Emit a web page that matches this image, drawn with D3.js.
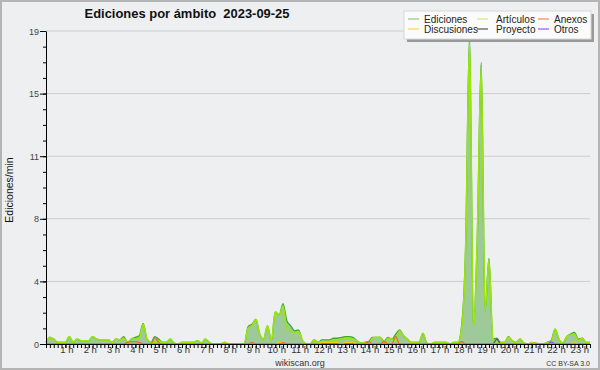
<!DOCTYPE html>
<html>
<head>
<meta charset="utf-8">
<script src="https://cdn.jsdelivr.net/npm/d3@7"></script>
<style>
  body { margin: 0; background: #fff; }
  svg { display: block; }
  text { font-family: "Liberation Sans", Arial, sans-serif; }
</style>
</head>
<body>
<svg id="chart" width="600" height="370"></svg>
<script>
// minutos del dia: primer punto 00:10, un punto cada 10 min hasta 23:30
var startMin = 10, stepMin = 10;

// ediciones/min por tramo de 10 minutos (una fila = una hora)
var ediciones = [
  0.1,0.4,0.3,0.1,0.1,0.1,
  0.45,0.1,0.3,0.2,0.2,0.2,
  0.45,0.3,0.25,0.25,0.25,0.1,
  0.3,0.25,0.45,0.1,0.3,0.4,
  0.5,1.25,0.3,0.1,0.45,0.3,
  0.1,0.1,0.3,0.05,0,0.1,
  0.1,0.1,0.1,0.2,0.05,0.3,
  0.1,0,0,0,0.1,0,
  0,0,0,0,1.05,1.2,
  1.5,0.6,0.3,1.1,0.2,1.95,
  1.75,2.45,1.4,1.1,0.8,0.85,
  0.2,0,0,0.25,0.1,0.25,
  0.25,0.25,0.35,0.35,0.4,0.45,
  0.45,0.4,0.2,0.05,0.1,0.15,
  0.4,0.4,0.4,0.15,0.4,0.3,
  0.6,0.85,0.5,0.3,0.1,0.1,
  0.1,0.65,0.05,0,0.1,0.1,
  0.1,0.1,0,0.1,0.1,1.2,
  6,18.7,1.0,6.5,17.1,2.0,
  5.2,0.3,0.35,0.1,0.1,0.45,
  0.2,0.1,0.3,0.05,0,0.1,
  0.05,0,0,0.1,0.2,0.9,
  0.3,0.05,0.45,0.6,0.7,0.3,
  0.35,0.1,0.1
];
var articulos = [
  0.1,0.4,0.3,0.1,0.1,0.1,
  0.45,0.1,0.3,0.2,0.2,0.2,
  0.45,0.3,0.25,0.25,0.25,0.1,
  0.3,0.25,0.35,0.1,0.3,0.3,
  0.35,1.2,0.3,0.1,0.05,0.2,
  0.1,0.1,0.3,0.05,0,0.1,
  0.1,0.1,0.1,0.2,0.05,0.3,
  0.1,0,0,0,0.1,0,
  0,0,0,0,0.95,1.1,
  1.5,0.6,0.3,1.1,0.2,1.95,
  1.7,2.3,0.95,0.8,0.65,0.75,
  0.2,0,0,0.25,0.1,0.15,
  0.15,0.15,0.25,0.25,0.3,0.35,
  0.35,0.3,0.2,0.05,0.1,0,
  0.35,0.4,0.4,0,0.35,0.3,
  0.15,0.8,0.5,0.3,0.1,0.1,
  0.1,0.65,0.05,0,0.1,0.1,
  0.1,0.1,0,0.1,0.1,1.0,
  5.8,18.3,1.0,6.4,16.8,2.0,
  5.1,0.3,0.05,0.1,0.1,0.4,
  0.2,0.1,0.3,0.05,0,0,
  0.05,0,0,0.1,0.1,0.9,
  0.3,0.05,0.45,0.55,0.6,0.2,
  0.35,0.1,0.1
];
var anexos = [
  0,0,0,0,0,0,  0,0,0,0,0,0,  0,0,0,0,0,0,
  0,0,0,0.1,0.15,0.15,
  0.1,0,0,0,0.38,0.1,
  0,0,0,0,0,0,  0,0,0,0,0,0,  0,0,0,0,0,0,
  0,0,0,0,0,0.1,
  0,0,0,0,0,0,
  0,0.08,0,0,0,0,
  0,0,0,0,0,0,  0,0,0,0,0,0,
  0,0,0,0,0,0.15,
  0,0,0,0.15,0,0,
  0.45,0,0,0,0,0,
  0,0,0,0,0,0,
  0,0,0,0,0,0.15,
  0,0,0,0,0,0,  0,0,0,0,0,0,  0,0,0,0,0,0,  0,0,0,0,0,0,  0,0,0,0,0,0,
  0,0,0
];
var discusiones = [
  0,0,0,0,0,0,  0,0,0,0,0,0,  0,0,0,0,0,0,  0,0,0,0,0,0,  0,0,0,0,0,0,
  0,0,0,0,0,0,  0,0,0,0,0,0,  0,0,0,0,0,0,  0,0,0,0,0,0,  0,0,0,0,0,0,
  0.08,0.08,0,0,0,0,
  0,0,0,0,0,0.1,
  0.1,0.1,0.1,0.1,0,0.1,
  0.1,0.1,0,0,0,0,
  0,0,0,0,0,0,  0,0,0,0,0,0,  0,0,0,0,0,0,  0,0,0,0,0,0,  0,0,0,0,0,0,  0,0,0,0,0,0,
  0,0,0,0,0,0.1,
  0,0,0,0,0,0,
  0,0,0,0,0.08,0,
  0,0,0
];
var proyecto = [
  0,0,0,0,0,0,  0,0,0,0,0,0,  0,0,0,0,0,0,  0,0,0,0,0,0,  0,0,0,0,0,0,
  0,0,0,0,0,0,  0,0,0,0,0,0,  0,0,0,0,0,0,  0,0,0,0,0,0,  0,0,0,0,0,0,
  0,0,0,0,0,0,  0,0,0,0,0,0,  0,0,0,0,0,0,  0,0,0,0,0,0,  0,0,0,0,0,0,
  0,0,0,0,0,0,  0,0,0,0,0,0,  0,0,0,0,0,0,  0,0,0,0,0,0,
  0,0,0.3,0,0,0,
  0,0,0,0,0,0,  0,0,0,0,0,0,  0,0,0,0,0,0,
  0,0,0
];
var otros = [
  0,0,0,0,0,0,  0,0,0,0,0,0,  0,0,0,0,0,0,  0,0,0,0,0,0,  0,0,0,0,0,0,
  0,0,0,0,0,0,  0,0,0,0,0,0,  0,0,0,0,0,0,  0,0,0,0,0,0,  0,0,0,0,0,0,
  0,0,0,0,0,0,  0,0,0,0,0,0,  0,0,0,0,0,0,  0,0,0,0,0,0,  0,0,0,0,0,0,
  0,0,0,0,0,0,  0,0,0,0,0,0,  0,0,0,0,0,0,  0,0,0,0,0,0,  0,0,0,0,0,0,
  0,0,0,0,0,0,
  0,0,0,0,0.12,0,
  0,0,0,0,0,0,
  0,0,0
];

var yTicks = [0, 3.8, 7.6, 11.4, 15.2, 19];
var yTickLabels = ["0", "4", "8", "11", "15", "19"];
var hours = [1,2,3,4,5,6,7,8,9,10,11,12,13,14,15,16,17,18,19,20,21,22,23];

var seriesNames = ["Ediciones", "Artículos", "Anexos", "Discusiones", "Proyecto", "Otros"];
var seriesColors = ["#3aa93a", "#9be60a", "#ee6a2a", "#f5cc10", "#555555", "#8a3ff0"];
var legendColors = ["#88cc88", "#c8ee66", "#f08858", "#f8d858", "#555555", "#9a55f0"];

var svg = d3.select("#chart");

svg.append("rect")
  .attr("x", 1).attr("y", 1).attr("width", 598).attr("height", 368)
  .attr("fill", "#eeeff1").attr("stroke", "#b4b4b4").attr("stroke-width", 2);

var x = d3.scaleLinear().domain([10, 1410]).range([46, 590]);
var y = d3.scaleLinear().domain([0, 19]).range([344, 31]);

function pts(arr) {
  return arr.map(function(v, i) { return { t: startMin + i * stepMin, v: v }; });
}

// rejilla
svg.append("g").selectAll("line")
  .data(yTicks.slice(1))
  .enter().append("line")
    .attr("x1", 46).attr("x2", 590)
    .attr("y1", function(d) { return y(d); })
    .attr("y2", function(d) { return y(d); })
    .attr("stroke", "#cccccc");

// area + lineas
var area = d3.area()
  .x(function(d) { return x(d.t); })
  .y0(y(0))
  .y1(function(d) { return y(d.v); })
  .curve(d3.curveMonotoneX);

var line = d3.line()
  .x(function(d) { return x(d.t); })
  .y(function(d) { return y(d.v); })
  .curve(d3.curveMonotoneX);

svg.append("path").attr("d", area(pts(ediciones))).attr("fill", "#9dc99b");

var lineas = [ediciones, articulos, otros, proyecto, discusiones, anexos];
var lineCols = [seriesColors[0], seriesColors[1], seriesColors[5], seriesColors[4], seriesColors[3], seriesColors[2]];
var lineW = [1.3, 1.6, 1.2, 1.2, 1.2, 1.2];
lineas.forEach(function(s, k) {
  svg.append("path")
    .attr("d", line(pts(s)))
    .attr("fill", "none")
    .attr("stroke", lineCols[k])
    .attr("stroke-width", lineW[k])
    .attr("stroke-linejoin", "round");
});

// eje Y
var yAxis = svg.append("g").attr("transform", "translate(46,0)")
  .call(d3.axisLeft(y).tickValues(yTicks).tickSize(6).tickSizeOuter(0)
    .tickFormat(function(d, i) { return yTickLabels[i]; }));
yAxis.select(".domain").attr("stroke", "#000");
yAxis.selectAll("text").attr("font-size", 9).attr("fill", "#444").attr("x", -7).attr("dy", "0.35em")
  .attr("font-family", "Liberation Sans, Arial, sans-serif");
svg.append("g").attr("transform", "translate(46,0)")
  .call(d3.axisLeft(y).tickValues(d3.range(0, 19.01, 0.95)).tickSize(3).tickSizeOuter(0).tickFormat(""))
  .select(".domain").remove();

// eje X
var xAxis = svg.append("g").attr("transform", "translate(0,344)")
  .call(d3.axisBottom(x).tickValues(hours.map(function(h) { return h * 60; }))
    .tickSize(4).tickSizeOuter(0)
    .tickFormat(function(d) { return (d / 60) + " h"; }));
xAxis.select(".domain").attr("stroke", "#000");
xAxis.selectAll("text").attr("font-size", 9.5).attr("fill", "#333").attr("y", 2.5).attr("dy", "0.71em")
  .attr("dx", 1).attr("font-family", "Liberation Sans, Arial, sans-serif");
svg.append("g").attr("transform", "translate(0,344)")
  .call(d3.axisBottom(x).tickValues(d3.range(10, 1411, 10)).tickSize(4).tickSizeOuter(0).tickFormat(""))
  .select(".domain").remove();

// textos
svg.append("text")
  .attr("x", 187).attr("y", 18)
  .attr("text-anchor", "middle")
  .attr("font-weight", "bold").attr("font-size", 12.5)
  .attr("fill", "#111")
  .attr("textLength", 205).attr("lengthAdjust", "spacingAndGlyphs")
  .text("Ediciones por ámbito\u00a0\u00a02023-09-25");

svg.append("text")
  .attr("transform", "translate(13,190) rotate(-90)")
  .attr("text-anchor", "middle")
  .attr("font-family", "DejaVu Sans, sans-serif")
  .attr("font-size", 10.5).attr("fill", "#111")
  .text("Ediciones/min");

svg.append("text")
  .attr("x", 300).attr("y", 366)
  .attr("text-anchor", "middle").attr("font-size", 9).attr("fill", "#333")
  .text("wikiscan.org");

svg.append("text")
  .attr("x", 590).attr("y", 366)
  .attr("text-anchor", "end").attr("font-size", 7).attr("fill", "#333")
  .text("CC BY-SA 3.0");

// leyenda
var leg = svg.append("g");
leg.append("rect").attr("x", 407).attr("y", 14).attr("width", 187).attr("height", 28).attr("fill", "#999");
leg.append("rect").attr("x", 404).attr("y", 11).attr("width", 187).attr("height", 28)
  .attr("fill", "#fbfbfb").attr("stroke", "#d8d8d8");

var legCols = [408, 477, 538];
var legRows = [19, 29];
var legOrder = [[0, 1, 2], [3, 4, 5]];
legOrder.forEach(function(row, r) {
  row.forEach(function(k, c) {
    leg.append("line")
      .attr("x1", legCols[c]).attr("x2", legCols[c] + 11)
      .attr("y1", legRows[r]).attr("y2", legRows[r])
      .attr("stroke", legendColors[k]).attr("stroke-width", 1.2);
    leg.append("text")
      .attr("x", legCols[c] + (c === 1 ? 19 : 16)).attr("y", legRows[r] + 3.5)
      .attr("font-size", 10).attr("fill", "#222")
      .text(seriesNames[k]);
  });
});
</script>
</body>
</html>
